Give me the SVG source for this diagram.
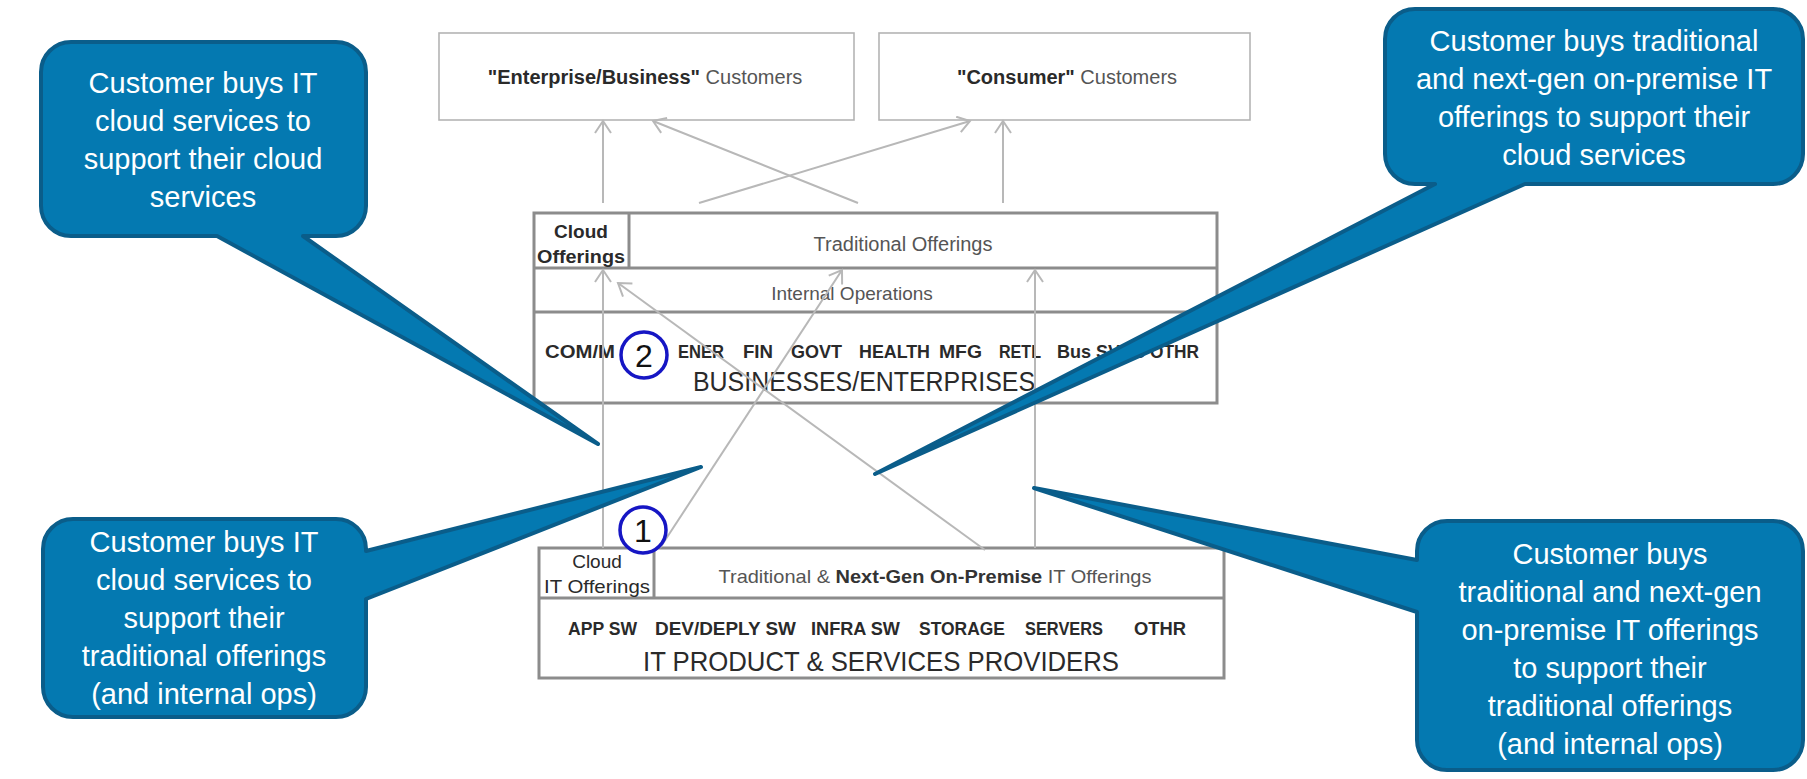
<svg xmlns="http://www.w3.org/2000/svg" width="1807" height="779" viewBox="0 0 1807 779">
  <style>
    .cust { fill: #ffffff; stroke: #b4b4b4; stroke-width: 1.6; }
    .frame { fill: #ffffff; stroke: #8c8c8c; stroke-width: 3; }
    .rule { stroke: #8c8c8c; stroke-width: 3; fill: none; }
    .link { stroke: #b8b8b8; stroke-width: 2; fill: none; marker-end: url(#chev); }
    .lbl { font-family: "Liberation Sans", Arial, sans-serif; fill: #2a2a2a; }
    .b { font-weight: bold; }
    .soft { fill: #555555; }
    .bubble { fill: #0479b1; stroke: #0a5d8a; stroke-width: 4; stroke-linejoin: round; }
    .btxt { font-family: "Liberation Sans", Arial, sans-serif; font-size: 29px; fill: #ffffff; text-anchor: middle; }
    .mark { fill: #ffffff; stroke: #1616c4; stroke-width: 3.5; }
    .num { font-family: "Liberation Sans", Arial, sans-serif; font-size: 32px; fill: #111111; text-anchor: middle; }
  </style>
  <defs>
    <marker id="chev" viewBox="-14 -9 16 18" refX="0" refY="0" markerWidth="16" markerHeight="18" markerUnits="userSpaceOnUse" orient="auto">
      <path d="M-12,-8 L0,0 L-12,8" fill="none" stroke="#b8b8b8" stroke-width="2"/>
    </marker>
  </defs>

  <!-- customer groups -->
  <g id="enterprise-customers">
    <rect class="cust" x="439" y="33" width="415" height="87"/>
    <text class="lbl" x="645" y="84" font-size="20" text-anchor="middle"><tspan class="b">"Enterprise/Business"</tspan><tspan class="soft"> Customers</tspan></text>
  </g>
  <g id="consumer-customers">
    <rect class="cust" x="879" y="33" width="371" height="87"/>
    <text class="lbl" x="1067" y="84" font-size="20" text-anchor="middle"><tspan class="b">"Consumer"</tspan><tspan class="soft"> Customers</tspan></text>
  </g>

  <!-- businesses / enterprises -->
  <g id="businesses">
    <rect class="frame" x="534" y="213" width="683" height="190"/>
    <line class="rule" x1="534" y1="268" x2="1217" y2="268"/>
    <line class="rule" x1="534" y1="312" x2="1217" y2="312"/>
    <line class="rule" x1="629" y1="213" x2="629" y2="268"/>
    <text class="lbl b" x="581" y="238" font-size="19" text-anchor="middle">Cloud</text>
    <text class="lbl b" x="581" y="263" font-size="19" text-anchor="middle" textLength="88" lengthAdjust="spacingAndGlyphs">Offerings</text>
    <text class="lbl soft" x="903" y="251" font-size="20" text-anchor="middle">Traditional Offerings</text>
    <text class="lbl soft" x="852" y="300" font-size="19" text-anchor="middle">Internal Operations</text>
    <g class="lbl b" font-size="19">
      <text x="545" y="358" textLength="70" lengthAdjust="spacingAndGlyphs">COM/M</text>
      <text x="678" y="358" textLength="46" lengthAdjust="spacingAndGlyphs">ENER</text>
      <text x="743" y="358" textLength="30" lengthAdjust="spacingAndGlyphs">FIN</text>
      <text x="791" y="358" textLength="51" lengthAdjust="spacingAndGlyphs">GOVT</text>
      <text x="859" y="358" textLength="71" lengthAdjust="spacingAndGlyphs">HEALTH</text>
      <text x="939" y="358" textLength="43" lengthAdjust="spacingAndGlyphs">MFG</text>
      <text x="999" y="358" textLength="42" lengthAdjust="spacingAndGlyphs">RETL</text>
      <text x="1057" y="358" textLength="88" lengthAdjust="spacingAndGlyphs">Bus SVCS</text>
      <text x="1150" y="358" textLength="49" lengthAdjust="spacingAndGlyphs">OTHR</text>
    </g>
    <text class="lbl" x="864" y="391" font-size="27" text-anchor="middle" textLength="342" lengthAdjust="spacingAndGlyphs">BUSINESSES/ENTERPRISES</text>
  </g>

  <!-- IT product and services providers -->
  <g id="providers">
    <rect class="frame" x="539" y="548" width="685" height="130"/>
    <line class="rule" x1="539" y1="598" x2="1224" y2="598"/>
    <line class="rule" x1="654" y1="548" x2="654" y2="598"/>
    <text class="lbl" x="597" y="568" font-size="19" text-anchor="middle">Cloud</text>
    <text class="lbl" x="597" y="593" font-size="19" text-anchor="middle" textLength="106" lengthAdjust="spacingAndGlyphs">IT Offerings</text>
    <text class="lbl soft" x="935" y="583" font-size="19" text-anchor="middle" textLength="433" lengthAdjust="spacingAndGlyphs">Traditional &amp; <tspan class="b" fill="#333">Next-Gen On-Premise</tspan> IT Offerings</text>
    <g class="lbl b" font-size="18">
      <text x="568" y="635" textLength="69" lengthAdjust="spacingAndGlyphs">APP SW</text>
      <text x="655" y="635" textLength="141" lengthAdjust="spacingAndGlyphs">DEV/DEPLY SW</text>
      <text x="811" y="635" textLength="89" lengthAdjust="spacingAndGlyphs">INFRA SW</text>
      <text x="919" y="635" textLength="86" lengthAdjust="spacingAndGlyphs">STORAGE</text>
      <text x="1025" y="635" textLength="78" lengthAdjust="spacingAndGlyphs">SERVERS</text>
      <text x="1134" y="635" textLength="52" lengthAdjust="spacingAndGlyphs">OTHR</text>
    </g>
    <text class="lbl" x="881" y="671" font-size="28" text-anchor="middle" textLength="476" lengthAdjust="spacingAndGlyphs">IT PRODUCT &amp; SERVICES PROVIDERS</text>
  </g>

  <!-- purchase flows -->
  <g id="connectors">
    <line class="link" x1="603" y1="203" x2="603" y2="121"/>
    <line class="link" x1="858" y1="203" x2="653" y2="121"/>
    <line class="link" x1="699" y1="203" x2="970" y2="121"/>
    <line class="link" x1="1003" y1="203" x2="1003" y2="121"/>
    <line class="link" x1="603" y1="548" x2="603" y2="270"/>
    <line class="link" x1="660" y1="548" x2="842" y2="270"/>
    <line class="link" x1="985" y1="550" x2="618" y2="283"/>
    <line class="link" x1="1035" y1="548" x2="1035" y2="270"/>
  </g>

  <!-- numbered markers -->
  <g id="marker-1">
    <circle class="mark" cx="643" cy="530" r="23"/>
    <text class="num" x="643" y="542">1</text>
  </g>
  <g id="marker-2">
    <circle class="mark" cx="644" cy="355" r="23"/>
    <text class="num" x="644" y="367">2</text>
  </g>

  <!-- speech bubbles -->
  <g id="bubble-cloud-for-cloud">
    <path class="bubble" d="M71,42 H336 A30,30 0 0 1 366,72 V206 A30,30 0 0 1 336,236 H303 L598,444 L217,236 H71 A30,30 0 0 1 41,206 V72 A30,30 0 0 1 71,42 Z"/>
    <text class="btxt" x="203" y="93">Customer buys IT</text>
    <text class="btxt" x="203" y="131">cloud services to</text>
    <text class="btxt" x="203" y="169">support their cloud</text>
    <text class="btxt" x="203" y="207">services</text>
  </g>
  <g id="bubble-onprem-for-cloud">
    <path class="bubble" d="M1415,9 H1773 A30,30 0 0 1 1803,39 V154 A30,30 0 0 1 1773,184 H1525 L875,474 L1435,184 H1415 A30,30 0 0 1 1385,154 V39 A30,30 0 0 1 1415,9 Z"/>
    <text class="btxt" x="1594" y="51">Customer buys traditional</text>
    <text class="btxt" x="1594" y="89">and next-gen on-premise IT</text>
    <text class="btxt" x="1594" y="127">offerings to support their</text>
    <text class="btxt" x="1594" y="165">cloud services</text>
  </g>
  <g id="bubble-cloud-for-traditional">
    <path class="bubble" d="M73,519 H336 A30,30 0 0 1 366,549 V551 L701,467 L366,599 V687 A30,30 0 0 1 336,717 H73 A30,30 0 0 1 43,687 V549 A30,30 0 0 1 73,519 Z"/>
    <text class="btxt" x="204" y="552">Customer buys IT</text>
    <text class="btxt" x="204" y="590">cloud services to</text>
    <text class="btxt" x="204" y="628">support their</text>
    <text class="btxt" x="204" y="666">traditional offerings</text>
    <text class="btxt" x="204" y="704">(and internal ops)</text>
  </g>
  <g id="bubble-onprem-for-traditional">
    <path class="bubble" d="M1447,521 H1773 A30,30 0 0 1 1803,551 V740 A30,30 0 0 1 1773,770 H1447 A30,30 0 0 1 1417,740 V612 L1034,488 L1417,560 V551 A30,30 0 0 1 1447,521 Z"/>
    <text class="btxt" x="1610" y="564">Customer buys</text>
    <text class="btxt" x="1610" y="602">traditional and next-gen</text>
    <text class="btxt" x="1610" y="640">on-premise IT offerings</text>
    <text class="btxt" x="1610" y="678">to support their</text>
    <text class="btxt" x="1610" y="716">traditional offerings</text>
    <text class="btxt" x="1610" y="754">(and internal ops)</text>
  </g>
</svg>
